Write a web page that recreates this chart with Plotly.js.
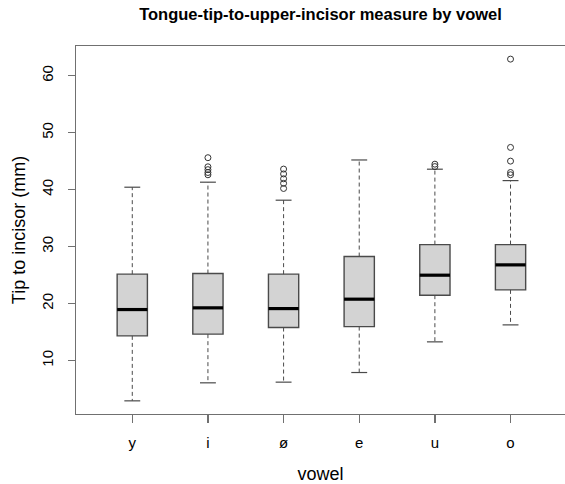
<!DOCTYPE html>
<html>
<head>
<meta charset="utf-8">
<script src="https://cdn.plot.ly/plotly-3.0.1.min.js"></script>
<style>html,body{margin:0;padding:0;background:#fff;}#chart{width:565px;height:484px;}</style>
</head>
<body>
<div id="chart"></div>
<script>
// Data
const vowels = ['y', 'i', 'ø', 'e', 'u', 'o'];
const q1 = [14.33, 14.63, 15.79, 15.96, 21.47, 22.40];
const medians = [18.95, 19.25, 19.12, 20.77, 24.98, 26.79];
const q3 = [25.16, 25.27, 25.16, 28.25, 30.35, 30.35];
const lowerWhisker = [2.93, 6.09, 6.21, 7.90, 13.28, 16.26];
const upperWhisker = [40.42, 41.30, 38.14, 45.20, 43.58, 41.58];
const outliers_y = [];
const outliers_i = [45.6, 44.0, 43.5, 43.0, 42.6];
const outliers_oe = [43.6, 42.75, 41.9, 41.1, 40.2];
const outliers_e = [];
const outliers_u = [44.46, 44.04];
const outliers_o = [62.9, 47.4, 45.0, 43.0, 42.6];
const outlierGroups = [outliers_y, outliers_i, outliers_oe, outliers_e, outliers_u, outliers_o];

const pos = vowels.map((v, i) => i + 1);
const boxHalf = 0.2, capHalf = 0.105;
const lineCol = '#4a4a4a';

// whiskers (dashed)
const wx = [], wy = [];
pos.forEach((p, i) => {
  wx.push(p, p, null, p, p, null);
  wy.push(q3[i], upperWhisker[i], null, q1[i], lowerWhisker[i], null);
});
// staples
const cx = [], cy = [];
pos.forEach((p, i) => {
  cx.push(p - capHalf, p + capHalf, null, p - capHalf, p + capHalf, null);
  cy.push(upperWhisker[i], upperWhisker[i], null, lowerWhisker[i], lowerWhisker[i], null);
});
// medians
const mx = [], my = [];
pos.forEach((p, i) => {
  mx.push(p - boxHalf, p + boxHalf, null);
  my.push(medians[i], medians[i], null);
});
// outliers
const ox = [], oy = [];
outlierGroups.forEach((g, i) => g.forEach(v => { ox.push(pos[i]); oy.push(v); }));

const traces = [
  {type: 'scatter', mode: 'lines', x: wx, y: wy, hoverinfo: 'skip',
   line: {color: lineCol, width: 1, dash: '4px,3px'}, showlegend: false},
  {type: 'scatter', mode: 'lines', x: cx, y: cy, hoverinfo: 'skip',
   line: {color: lineCol, width: 1.2}, showlegend: false},
  {type: 'box', x: pos, q1: q1, median: medians, q3: q3,
   lowerfence: q1, upperfence: q3, width: 0.4, whiskerwidth: 0,
   fillcolor: '#d3d3d3', line: {color: lineCol, width: 1.4}, showlegend: false,
   boxpoints: false},
  {type: 'scatter', mode: 'lines', x: mx, y: my, hoverinfo: 'skip',
   line: {color: '#000000', width: 3.2}, showlegend: false},
  {type: 'scatter', mode: 'markers', x: ox, y: oy, showlegend: false,
   marker: {symbol: 'circle-open', size: 6, color: '#333333', line: {width: 1}}}
];

const font = 'Liberation Sans, Arial, sans-serif';
const layout = {
  width: 565, height: 484,
  margin: {l: 76, r: 0, t: 46, b: 70, pad: 0},
  paper_bgcolor: '#ffffff', plot_bgcolor: '#ffffff',
  font: {family: font, color: '#000000', size: 14},
  showlegend: false,
  title: {text: '<b>Tongue-tip-to-upper-incisor measure by vowel</b>',
          font: {family: font, size: 16.5, color: '#000'},
          x: 0.5, xref: 'paper', y: 1 - 14 / 484, yref: 'container', yanchor: 'middle'},
  xaxis: {range: [0.256, 6.72], tickmode: 'array', tickvals: pos, ticktext: vowels,
          showgrid: false, zeroline: false, showline: true, mirror: true,
          linecolor: '#707070', linewidth: 1.3,
          ticks: 'outside', ticklen: 8, tickcolor: '#707070', tickwidth: 1.3,
          tickfont: {size: 15, family: font}, ticklabelstandoff: 7,
          title: {text: 'vowel', font: {size: 18, family: font}, standoff: 19}},
  yaxis: {range: [0.62, 65.2], tickvals: [10, 20, 30, 40, 50, 60],
          showgrid: false, zeroline: false, showline: true, mirror: false,
          linecolor: '#707070', linewidth: 1.3,
          ticks: 'outside', ticklen: 7, tickcolor: '#707070', tickwidth: 1.3,
          tickangle: -90, tickfont: {size: 15, family: font}, ticklabelstandoff: 9,
          title: {text: 'Tip to incisor (mm)', font: {size: 18, family: font}, standoff: 8}}
};

Plotly.newPlot('chart', traces, layout, {displayModeBar: false, staticPlot: true});
</script>
</body>
</html>
